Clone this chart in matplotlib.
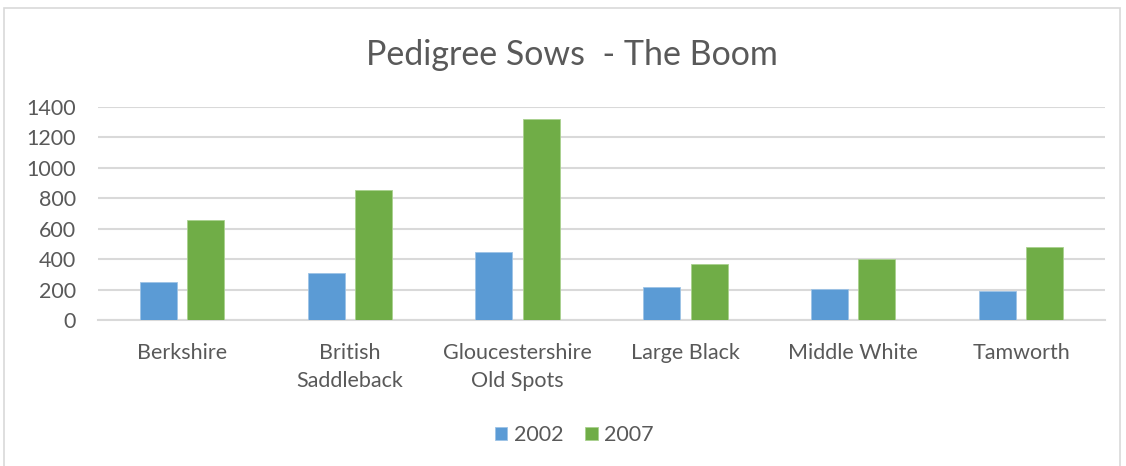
import matplotlib
matplotlib.use('Agg')
import matplotlib.pyplot as plt
import numpy as np
from matplotlib.patches import Rectangle

plt.rcParams['font.family'] = ['Lato', 'DejaVu Sans']

breeds = ['Berkshire', 'British\nSaddleback', 'Gloucestershire\nOld Spots',
          'Large Black', 'Middle White', 'Tamworth']
sows_2002 = [249, 308, 444, 215, 207, 192]
sows_2007 = [654, 857, 1321, 367, 402, 480]
y_ticks = [0, 200, 400, 600, 800, 1000, 1200, 1400]

text_col = '#595959'
grid_col = '#d9d9d9'

fig = plt.figure(figsize=(11.26, 4.66), dpi=100)
ax = fig.add_axes([98 / 1126, 1 - 320 / 466, 1007 / 1126, 213 / 466])

x = np.arange(len(breeds))
w = 0.22
ax.bar(x - 0.141, sows_2002, w, color='#5B9BD5', edgecolor='#9dc3e6', linewidth=0.6, label='2002', zorder=3)
ax.bar(x + 0.141, sows_2007, w, color='#70AD47', edgecolor='#a9d18e', linewidth=0.6, label='2007', zorder=3)

ax.set_xlim(-0.5, len(breeds) - 0.5)
ax.set_ylim(0, 1400)
ax.set_yticks(y_ticks)
ax.set_xticks(x)
ax.set_xticklabels(breeds, linespacing=1.5)
ax.tick_params(axis='both', length=0, colors=text_col, labelsize=15.5)
ax.tick_params(axis='x', pad=16.5)
ax.tick_params(axis='y', pad=16)
ax.grid(axis='y', color=grid_col, linewidth=1.5, zorder=0)
for s in ['top', 'right', 'left']:
    ax.spines[s].set_visible(False)
ax.spines['bottom'].set_color(grid_col)
ax.spines['bottom'].set_linewidth(1.5)

fig.text(0.5075, 0.882, 'Pedigree Sows  - The Boom', ha='center', va='center',
         fontsize=24.5, color=text_col)

leg = fig.legend(loc='center', bbox_to_anchor=(0.51, 1 - 435 / 466), ncol=2, frameon=False,
                 fontsize=15.5, handlelength=0.6, handleheight=0.6, handletextpad=0.3,
                 columnspacing=1.0)
for t in leg.get_texts():
    t.set_color(text_col)

fig.patches.append(Rectangle((4 / 1126, -0.01), 1116 / 1126, 1 - 8 / 466 + 0.01,
                             transform=fig.transFigure, fill=False,
                             edgecolor='#d9d9d9', linewidth=1.2))

fig.savefig('out.png', dpi=100)
